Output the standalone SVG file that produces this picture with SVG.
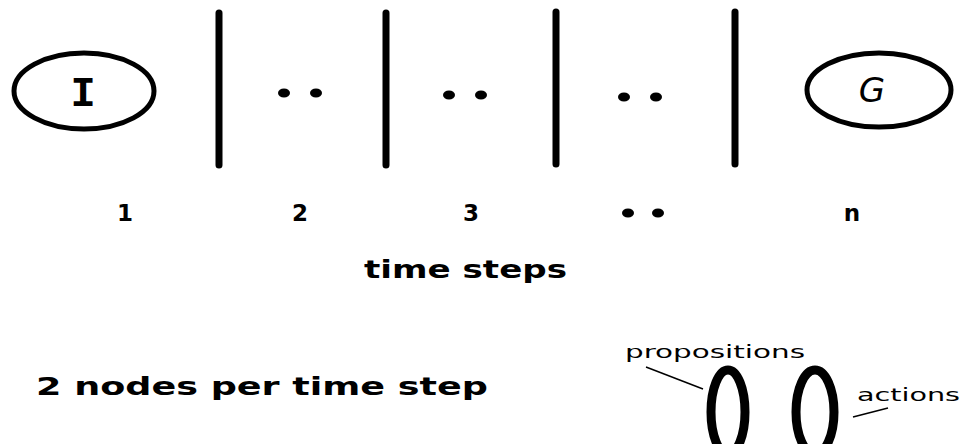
<svg xmlns="http://www.w3.org/2000/svg" width="963" height="444" viewBox="0 0 963 444">
<style>
.bar{stroke:#000;stroke-width:7;stroke-linecap:round;fill:none}
.ring{stroke:#000;stroke-width:5;fill:#fff}
.oval{stroke:#000;stroke-width:9;fill:#fff}
.lbl{font-family:"DejaVu Sans",sans-serif;font-weight:bold;fill:#000}
.thin{font-family:"DejaVu Sans",sans-serif;fill:#000;font-size:17px}
.lead{stroke:#000;stroke-width:1.5;fill:none}
</style>
<rect width="963" height="444" fill="#fff"/>
<g id="node-I">
<ellipse class="ring" cx="84" cy="91" rx="70" ry="38"/>
<text x="83" y="106" text-anchor="middle" style="font-family:'Liberation Mono',monospace;font-weight:bold;font-size:42px">I</text>
</g>
<g id="node-G">
<ellipse class="ring" cx="879" cy="90" rx="72" ry="37"/>
<text x="872" y="102" text-anchor="middle" style="font-family:'DejaVu Sans',sans-serif;font-style:italic;font-size:34px">G</text>
</g>
<g id="connectors">
<line class="bar" x1="219" y1="13" x2="219" y2="165"/>
<line class="bar" x1="386" y1="13" x2="386" y2="165"/>
<line class="bar" x1="556" y1="12" x2="556" y2="164"/>
<line class="bar" x1="735" y1="12" x2="735" y2="164"/>
</g>
<g id="dots">
<ellipse cx="284" cy="93" rx="6" ry="4.5"/>
<ellipse cx="316" cy="93" rx="6" ry="4.5"/>
<ellipse cx="449" cy="95" rx="6" ry="4.5"/>
<ellipse cx="481" cy="95" rx="6" ry="4.5"/>
<ellipse cx="624" cy="97" rx="6" ry="4.5"/>
<ellipse cx="656" cy="97" rx="6" ry="4.5"/>
</g>
<g id="steps">
<text class="lbl" x="125" y="221" text-anchor="middle" font-size="23">1</text>
<text class="lbl" x="300" y="221" text-anchor="middle" font-size="23">2</text>
<text class="lbl" x="471" y="221" text-anchor="middle" font-size="23">3</text>
<ellipse cx="628" cy="213" rx="6" ry="4.5"/>
<ellipse cx="658" cy="213" rx="6" ry="4.5"/>
<text class="lbl" x="852" y="221" text-anchor="middle" font-size="23">n</text>
<text class="lbl" x="364" y="278" font-size="24" textLength="203" lengthAdjust="spacingAndGlyphs">time steps</text>
<text class="lbl" x="36" y="395" font-size="25" textLength="452" lengthAdjust="spacingAndGlyphs">2 nodes per time step</text>
</g>
<g id="node-propositions">
<ellipse class="oval" cx="728" cy="412" rx="17" ry="42"/>
<text class="thin" x="625" y="358" textLength="180" lengthAdjust="spacingAndGlyphs">propositions</text>
<line class="lead" x1="646" y1="367" x2="703" y2="389"/>
</g>
<g id="node-actions">
<ellipse class="oval" cx="815" cy="412" rx="19" ry="42"/>
<text class="thin" x="857" y="401" textLength="103" lengthAdjust="spacingAndGlyphs">actions</text>
<line class="lead" x1="853" y1="417" x2="888" y2="408"/>
</g>
</svg>
